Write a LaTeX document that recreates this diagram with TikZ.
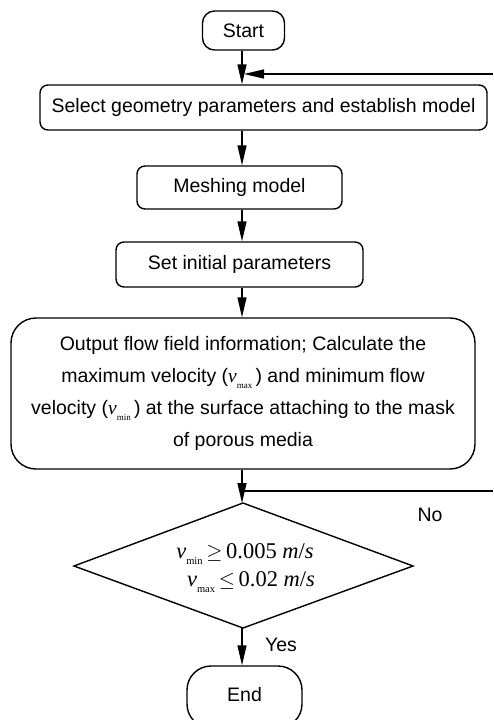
\documentclass[tikz,border=0pt]{standalone}
\usepackage{fontspec}
\setmainfont{Liberation Sans}
\newfontfamily\tnr{Liberation Serif}
\usetikzlibrary{arrows.meta}
% italic v with a small upright subscript, set in the serif face
\newcommand\velsub[2]{{\tnr\itshape v}\raisebox{-0.55ex}{\tnr\fontsize{#2}{#2}\selectfont #1}}
\begin{document}
\begin{tikzpicture}[x=1pt,y=-1pt,
  every node/.style={font=\fontsize{19.5}{32}\selectfont},
  box/.style={draw,line width=1.4pt,rectangle,rounded corners=8pt,inner sep=0pt,align=center},
  flow/.style={line width=1.4pt,-{Triangle[length=20pt,width=9pt]}},
  link/.style={line width=1.4pt,line join=miter}]
\useasboundingbox (0,0) rectangle (493,720);
\clip (0,0) rectangle (493,720);

\coordinate (spine) at (242,0);

\node[box,rounded corners=12pt,minimum width=82pt,minimum height=39pt] (start) at (243.5,30.5) {Start};
\node[box,minimum width=447pt,minimum height=45pt] (select) at (263.5,107.5)
  {Select geometry parameters and establish model};
\node[box,minimum width=205pt,minimum height=43pt] (mesh) at (239.5,187.5) {Meshing model};
\node[box,minimum width=247pt,minimum height=45pt] (setp) at (239.5,264.5) {Set initial parameters};
\node[box,rounded corners=25pt,minimum width=464pt,minimum height=151pt] (big) at (243,393.5)
  {Output flow field information; Calculate the\\
   maximum velocity (\velsub{max}{9}\,) and minimum flow\\
   velocity (\velsub{min}{9}\,) at the surface attaching to the mask\\
   of porous media};

% decision diamond
\coordinate (dtop) at (243,503);
\coordinate (dleft) at (74,566);
\coordinate (dright) at (413,566);
\coordinate (dbot) at (243,628);
\draw[link] (dtop) -- (dright) -- (dbot) -- (dleft) -- cycle;
\node[align=center,inner sep=0pt,font=\tnr\fontsize{22.5}{28}\selectfont] (dec) at (245,568)
  {\velsub{min}{10.5}\,$\geq$\,0.005 \textit{m}/\textit{s}\\
   \hspace*{12pt}\velsub{max}{10.5}\,$\leq$\,0.02 \textit{m}/\textit{s}};

\node[box,rounded corners=24pt,minimum width=115pt,minimum height=62pt] (stop) at (244.5,697) {\raisebox{6pt}{End}};

\node (no) at (430,515) {No};
\node (yes) at (281,645) {Yes};

\coordinate (fbin) at (493,74);
\coordinate (fbout) at (493,491);

\draw[flow] (start.south -| spine) -- (select.north -| spine);
\draw[flow] (select.south -| spine) -- (mesh.north -| spine);
\draw[flow] (mesh.south -| spine) -- (setp.north -| spine);
\draw[flow] (setp.south -| spine) -- (big.north -| spine);
\draw[flow] (big.south -| spine) -- (dtop -| spine);
\draw[flow] (dbot -| spine) -- (stop.north -| spine);

% return path towards the model selection step
\draw[link] (spine |- fbout) -- (fbout);
\draw[flow] (fbin) -- ([xshift=2pt]spine |- fbin);
\end{tikzpicture}
\end{document}
